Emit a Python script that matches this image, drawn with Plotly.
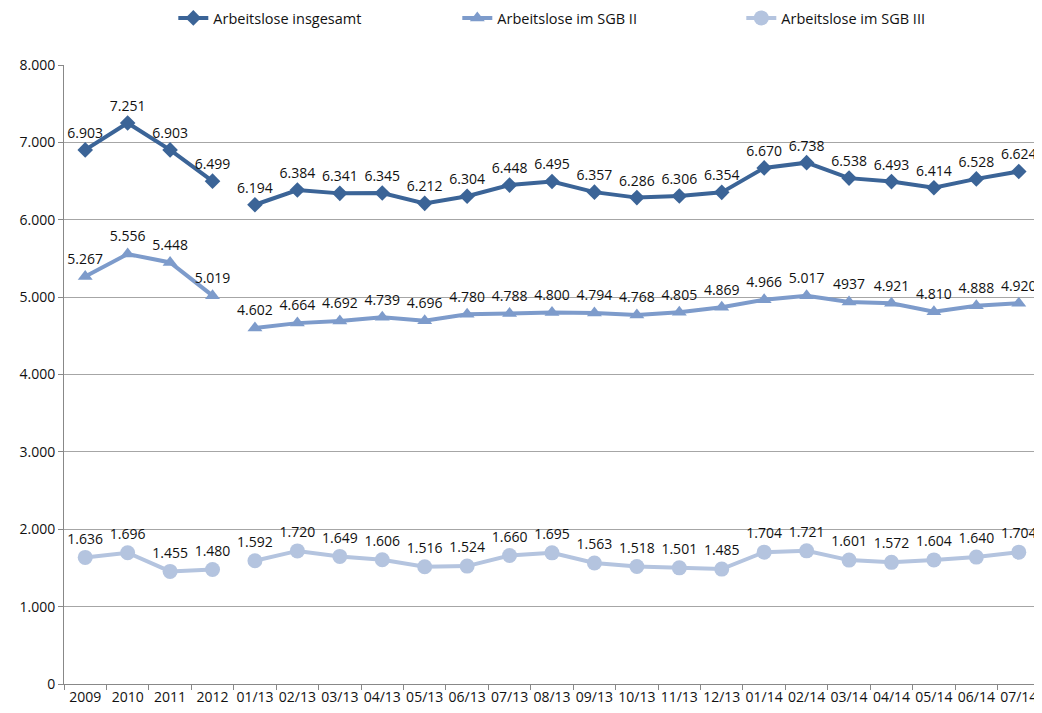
import plotly.graph_objects as go

categories = ["2009", "2010", "2011", "2012",
              "01/13", "02/13", "03/13", "04/13", "05/13", "06/13", "07/13", "08/13",
              "09/13", "10/13", "11/13", "12/13",
              "01/14", "02/14", "03/14", "04/14", "05/14", "06/14", "07/14"]

insgesamt = [6903, 7251, 6903, 6499, 6194, 6384, 6341, 6345, 6212, 6304, 6448, 6495,
             6357, 6286, 6306, 6354, 6670, 6738, 6538, 6493, 6414, 6528, 6624]
sgb2 = [5267, 5556, 5448, 5019, 4602, 4664, 4692, 4739, 4696, 4780, 4788, 4800,
        4794, 4768, 4805, 4869, 4966, 5017, 4937, 4921, 4810, 4888, 4920]
sgb3 = [1636, 1696, 1455, 1480, 1592, 1720, 1649, 1606, 1516, 1524, 1660, 1695,
        1563, 1518, 1501, 1485, 1704, 1721, 1601, 1572, 1604, 1640, 1704]

names = ["Arbeitslose insgesamt", "Arbeitslose im SGB II", "Arbeitslose im SGB III"]
colors = ["#3B6497", "#7D9BCB", "#B4C4DF"]
symbols = ["diamond", "triangle-up", "circle"]
sizes = [12, 13, 15]


def fmt(v):
    return f"{v:,}".replace(",", ".")


labels_ins = [fmt(v) for v in insgesamt]
labels_sgb2 = [fmt(v) for v in sgb2]
labels_sgb2[18] = "4937"  # as printed in the original
labels_sgb3 = [fmt(v) for v in sgb3]

series = [insgesamt, sgb2, sgb3]
labels = [labels_ins, labels_sgb2, labels_sgb3]

fig = go.Figure()
split = 4
for i in range(3):
    for part, (a, b) in enumerate([(0, split), (split, len(categories))]):
        fig.add_trace(go.Scatter(
            x=categories[a:b], y=series[i][a:b],
            mode="lines+markers+text",
            text=labels[i][a:b],
            textposition="top center",
            textfont=dict(size=14, color="#111111"),
            name=names[i],
            legendgroup=names[i],
            showlegend=(part == 0),
            line=dict(color=colors[i], width=4),
            marker=dict(symbol=symbols[i], size=sizes[i], color=colors[i]),
            cliponaxis=False,
        ))

# page body has an 8px margin, so the figure is sized to fit the window
fig.update_layout(
    width=1034, height=705,
    margin=dict(l=56, r=2, t=57, b=29, autoexpand=False),
    paper_bgcolor="white", plot_bgcolor="white",
    font=dict(family="Open Sans, Liberation Sans, sans-serif", size=14, color="#111111"),
    separators=",.",
    showlegend=True,
    legend=dict(orientation="h", x=0.112, xanchor="left", y=1.076, yanchor="middle",
                entrywidth=239, font=dict(size=14.5), itemwidth=30,
                bgcolor="rgba(0,0,0,0)"),
)

fig.update_xaxes(
    type="category", categoryorder="array", categoryarray=categories,
    range=[-0.5, len(categories) - 0.5], autorange=False,
    tickson="boundaries", ticks="outside", ticklen=5, tickcolor="#888888",
    showline=True, linecolor="#888888", linewidth=1, tickangle=0,
    showgrid=False, tickfont=dict(size=14),
)
fig.update_yaxes(
    range=[0, 8000], dtick=1000, tickformat=",d",
    showgrid=True, gridcolor="#A6A6A6", gridwidth=1,
    showline=True, linecolor="#888888", linewidth=1,
    ticks="outside", ticklen=5, tickcolor="#888888",
    zeroline=False, tickfont=dict(size=14),
)

fig.write_html("out.html")
